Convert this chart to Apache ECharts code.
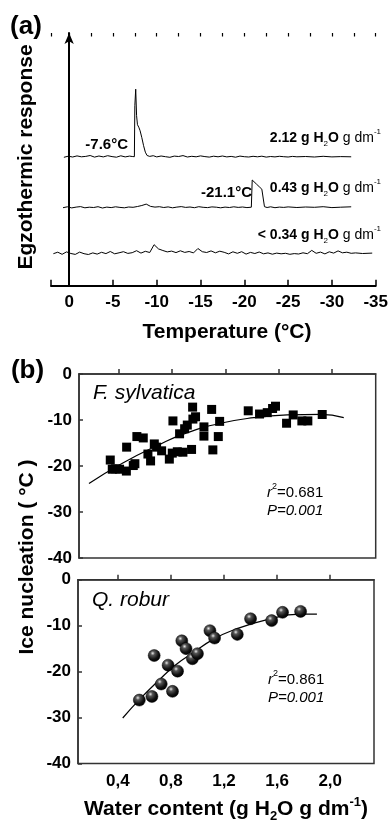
<!DOCTYPE html>
<html><head><meta charset="utf-8">
<script src="https://cdn.jsdelivr.net/npm/echarts@6/dist/echarts.min.js"></script>
<style>html,body{margin:0;padding:0;background:#fff}#c{width:391px;height:827px}</style>
</head><body><div id="c"></div>
<script>
const FONT = "'Liberation Sans', Arial, Helvetica, sans-serif";

// ---- Panel (a): DSC traces (temperature °C, exothermic response, arbitrary units)
const tempTicks = [0, -5, -10, -15, -20, -25, -30, -35];
const trace1Temp = [0.6,0.1,-0.4,-0.9,-1.4,-1.9,-2.4,-2.9,-3.4,-3.9,-4.4,-4.9,-5.4,-5.9,-6.4,-6.9,
  -7.2,-7.45,-7.5,-7.6,-7.7,-7.8,-7.95,-8.1,-8.3,-8.5,-8.7,-8.9,-9.2,-9.6,
  -10,-10.5,-11,-11.5,-12,-12.5,-13,-13.5,-14,-14.5,-15,-15.5,-16,-16.5,-17,-17.5,-18,-18.5,-19,-19.5,
  -20,-20.5,-21,-21.5,-22,-22.5,-23,-23.5,-24,-24.5,-25,-25.5,-26,
  -27,-28,-29,-30,-31,-32.2];
const trace1Resp = [128.4,129.5,128.7,129.8,128.9,129.3,130.2,128.6,129.7,128.8,130.0,129.1,128.5,129.9,128.8,129.6,
  129.2,129.0,180,196.5,170,161,158.5,155,148,140,133.5,130.2,129.3,130.0,
  128.8,129.7,129.0,128.4,129.6,129.2,130.1,128.7,129.4,128.9,129.8,129.1,128.6,129.5,128.9,129.7,128.8,129.3,128.5,129.6,
  129.0,128.7,129.4,128.9,129.5,128.6,129.2,128.8,129.4,129.0,128.7,129.3,128.9,
  129.2,128.7,129.4,128.8,129.1,128.9];
const trace2Temp = [0.7,0.2,-0.3,-0.8,-1.3,-1.8,-2.3,-2.8,-3.3,-3.8,-4.3,-4.8,-5.3,-5.8,-6.3,-6.8,-7.3,-7.8,-8.3,-8.8,
  -9.3,-9.8,-10.3,-10.8,-11.3,-11.8,-12.3,-12.8,-13.3,-13.8,-14.3,-14.8,-15.3,-15.8,-16.3,-16.8,-17.3,-17.8,-18.3,-18.8,
  -19.3,-19.8,-20.3,-20.8,
  -20.9,-21.1,-21.4,-21.7,-22.0,-22.2,-22.3,-22.6,
  -23,-23.5,-24,-24.5,-25,-26,-27,-28,-29,-30,-31,-32.2];
const trace2Resp = [78.0,78.9,77.8,78.6,79.1,77.9,78.5,78.2,79.0,77.7,78.6,78.1,78.9,78.3,77.9,78.7,78.4,79.2,80.2,81.6,
  79.3,78.6,79.0,78.2,78.8,77.9,78.6,79.1,78.3,78.7,78.0,79.0,78.4,78.1,78.8,78.5,77.9,78.6,78.2,78.9,
  78.3,78.7,78.1,78.5,
  105.7,104.5,101.5,99,96.5,94.5,79,78.2,
  78.9,78.0,78.6,78.3,78.8,78.2,78.7,78.4,79.0,78.1,78.5,78.9];
const trace3Temp = [1.8,1.3,0.8,0.3,-0.2,-0.7,-1.2,-1.7,-2.2,-2.7,-3.2,-3.7,-4.2,-4.7,-5.2,-5.7,-6.2,-6.7,-7.2,-7.7,
  -8.2,-8.7,-9.2,-9.7,-10.2,-10.7,-11.2,-11.7,-12.2,-12.7,-13.2,-13.7,-14.2,-14.7,-15.2,-15.7,-16.2,-16.7,-17.2,-17.7,
  -18.2,-18.7,-19.2,-19.7,-20.2,-20.7,-21.2,-21.7,-22.2,-22.7,-23.2,-23.7,-24.2,-24.7,-25.2,-25.7,-26.2,-26.7,-27.2,-27.7,
  -28.2,-28.7,-29.2,-29.7,-30.2,-30.7,-31.2,-31.7,-32.2,-32.7,-33.5,-34.6];
const trace3Resp = [32.0,33.5,31.4,33.8,32.2,31.3,33.6,32.0,31.2,32.8,31.6,33.4,32.1,34.2,31.9,32.9,34.0,32.3,33.0,35.0,
  32.6,34.4,33.2,41.0,36.8,35.2,33.8,34.6,33.1,34.9,33.3,34.2,32.8,37.2,34.0,33.2,34.8,32.9,34.5,33.4,
  31.8,33.9,32.4,34.0,31.6,33.3,32.2,33.7,31.9,32.8,31.5,32.6,31.9,32.4,31.4,32.1,31.7,32.9,32.0,35.3,
  32.4,33.6,31.8,33.9,32.6,34.8,32.9,33.5,32.4,32.8,32.2,32.6];

// ---- Panel (b): ice nucleation vs water content
const waterTicks = [0.4, 0.8, 1.2, 1.6, 2.0];
const iceTicks = [0, -10, -20, -30, -40];
const sylvaticaWater = [0.335,0.350,0.375,0.405,0.456,0.458,0.508,0.520,0.535,0.583,0.618,0.638,0.666,0.683,0.721,
  0.779,0.801,0.806,0.839,0.856,0.881,0.894,0.914,0.946,0.956,0.976,0.954,1.039,1.039,1.097,1.106,1.147,1.157,
  1.372,1.457,1.515,1.555,1.577,1.660,1.710,1.775,1.820,1.928];
const sylvaticaIce = [-18.7,-20.7,-20.6,-20.7,-21.1,-15.9,-19.9,-19.5,-13.6,-13.9,-17.4,-18.9,-15.2,-15.9,-16.7,
  -18.5,-17.2,-10.2,-16.9,-13.0,-17.0,-11.9,-11.1,-16.4,-9.8,-9.3,-7.2,-11.5,-13.5,-7.7,-16.5,-13.6,-10.3,
  -8.0,-8.7,-8.4,-7.5,-7.0,-10.7,-8.9,-10.2,-10.2,-8.8];
const sylvaticaFitWater = [0.175,0.426,0.70,0.90,1.164,1.414,1.665,1.915,2.09];
const sylvaticaFitIce = [-23.8,-19.4,-15.4,-12.9,-10.7,-9.5,-8.9,-8.76,-9.5];
const roburWater = [0.562,0.657,0.727,0.812,0.674,0.779,0.850,0.882,0.914,0.962,1.000,1.094,1.129,1.300,1.400,1.559,1.641,1.777];
const roburIce = [-26.2,-25.4,-22.7,-24.3,-16.5,-18.6,-19.9,-13.3,-15.0,-17.2,-16.1,-11.1,-12.7,-11.9,-8.5,-8.9,-7.1,-6.9];
const roburFitWater = [0.437,0.562,0.712,0.837,0.962,1.112,1.275,1.525,1.775,1.900];
const roburFitIce = [-30.1,-26.1,-21.8,-18.5,-16.0,-13.1,-10.9,-8.7,-7.5,-7.5];

const zip = (a, b) => a.map((v, i) => [v, b[i]]);
const chart = echarts.init(document.getElementById('c'), null, {renderer: 'canvas'});

const boldLab = {fontFamily: FONT, fontWeight: 'bold', fontSize: 17, color: '#000'};
const waterAxis = (grid, showLabels) => ({
  type: 'value', gridIndex: grid, min: 0.1, max: 2.33,
  axisLine: {show: true, lineStyle: {color: '#333', width: 1.5}},
  axisTick: {show: true, inside: true, length: 5, lineStyle: {color: '#333', width: 1.5}, customValues: waterTicks},
  axisLabel: Object.assign({show: showLabels, margin: 9, customValues: waterTicks,
    formatter: v => v.toFixed(1).replace('.', ',')}, boldLab),
  splitLine: {show: false}
});
const iceAxis = (grid) => ({
  type: 'value', gridIndex: grid, min: -40, max: 0, interval: 10,
  axisLine: {show: true, lineStyle: {color: '#333', width: 1.5}},
  axisTick: {show: true, inside: true, length: 4, lineStyle: {color: '#333', width: 1.5}},
  axisLabel: Object.assign({margin: 7}, boldLab),
  splitLine: {show: false}
});

const rich = (size, weight) => ({
  b: {fontFamily: FONT, fontWeight: 'bold', fontSize: size, lineHeight: size + 6, verticalAlign: 'middle'},
  n: {fontFamily: FONT, fontWeight: 'normal', fontSize: size, lineHeight: size + 6, verticalAlign: 'middle'},
  i: {fontFamily: FONT, fontStyle: 'italic', fontSize: size, lineHeight: size + 6, verticalAlign: 'middle'},
  sub: {fontFamily: FONT, fontWeight: weight, fontSize: Math.round(size * 0.6), lineHeight: size + 6, verticalAlign: 'bottom'},
  sup: {fontFamily: FONT, fontWeight: weight, fontSize: Math.round(size * 0.6), lineHeight: size + 6, verticalAlign: 'top'}
});
const txt = (x, y, text, opts) => Object.assign({
  type: 'text', x: x, y: y,
  style: Object.assign({text: text, fill: '#000', fontFamily: FONT, align: 'left', verticalAlign: 'middle'}, opts || {})
});

chart.setOption({
  backgroundColor: '#fff',
  animation: false,
  grid: [
    {left: 51, right: 11.7, top: 33, height: 252.7},
    {left: 79, top: 374, width: 296.7, height: 184, show: true, borderColor: '#333', borderWidth: 1.5},
    {left: 78, top: 579.7, width: 296, height: 183.8, show: true, borderColor: '#333', borderWidth: 1.5}
  ],
  xAxis: [
    {type: 'value', gridIndex: 0, min: -35, max: 2.07, interval: 5, inverse: true,
     axisLine: {show: true, lineStyle: {color: '#000', width: 2}},
     axisTick: {show: true, inside: true, length: 6, lineStyle: {color: '#000', width: 1.5}},
     axisLabel: Object.assign({margin: 8, formatter: v => (Math.abs(v % 5) < 1e-6 ? String(v) : '')}, boldLab),
     splitLine: {show: false}},
    {type: 'value', gridIndex: 0, min: -35, max: 2.07, interval: 2.5, inverse: true,
     axisLine: {show: false},
     axisTick: {show: true, inside: true, length: 3.5, lineStyle: {color: '#000', width: 1.2}},
     axisLabel: {show: false}, splitLine: {show: false}},
    waterAxis(1, false),
    waterAxis(2, true)
  ],
  yAxis: [
    {type: 'value', gridIndex: 0, min: 0, max: 252.7,
     axisLine: {show: true, symbol: ['none', 'arrow'], symbolSize: [7, 11], lineStyle: {color: '#000', width: 2}},
     axisTick: {show: false}, axisLabel: {show: false}, splitLine: {show: false}},
    iceAxis(1),
    iceAxis(2)
  ],
  series: [
    {type: 'line', xAxisIndex: 0, yAxisIndex: 0, data: zip(trace1Temp, trace1Resp), showSymbol: false,
     lineStyle: {color: '#000', width: 1}},
    {type: 'line', xAxisIndex: 0, yAxisIndex: 0, data: zip(trace2Temp, trace2Resp), showSymbol: false,
     lineStyle: {color: '#000', width: 1}},
    {type: 'line', xAxisIndex: 0, yAxisIndex: 0, data: zip(trace3Temp, trace3Resp), showSymbol: false,
     lineStyle: {color: '#000', width: 1}},
    {type: 'line', xAxisIndex: 2, yAxisIndex: 1, data: zip(sylvaticaFitWater, sylvaticaFitIce), smooth: true,
     showSymbol: false, lineStyle: {color: '#000', width: 1.2}, z: 1},
    {type: 'scatter', xAxisIndex: 2, yAxisIndex: 1, data: zip(sylvaticaWater, sylvaticaIce), symbol: 'rect',
     symbolSize: 9, itemStyle: {color: '#000', opacity: 1}, z: 2},
    {type: 'line', xAxisIndex: 3, yAxisIndex: 2, data: zip(roburFitWater, roburFitIce), smooth: true,
     showSymbol: false, lineStyle: {color: '#000', width: 1.2}, z: 1},
    {type: 'scatter', xAxisIndex: 3, yAxisIndex: 2, data: zip(roburWater, roburIce), symbol: 'circle',
     symbolSize: 12, z: 2,
     itemStyle: {opacity: 1, borderColor: '#000', borderWidth: 0.5,
       color: {type: 'radial', x: 0.38, y: 0.32, r: 0.68,
         colorStops: [{offset: 0, color: '#e8e8e8'}, {offset: 0.25, color: '#555'}, {offset: 0.7, color: '#111'}, {offset: 1, color: '#000'}]}}}
  ],
  graphic: [
    txt(26, 27, '(a)', {align: 'center', fontWeight: 'bold', fontSize: 26}),
    txt(27.5, 371, '(b)', {align: 'center', fontWeight: 'bold', fontSize: 26}),
    Object.assign(txt(26, 157, 'Egzothermic response', {align: 'center', fontWeight: 'bold', fontSize: 21}), {rotation: Math.PI / 2}),
    txt(227, 332, 'Temperature (°C)', {align: 'center', fontWeight: 'bold', fontSize: 21}),
    Object.assign(txt(27, 557, 'Ice nucleation ( °C )', {align: 'center', fontWeight: 'bold', fontSize: 21}), {rotation: Math.PI / 2}),
    txt(226, 809, '{b|Water content (g H}{sub|2}{b|O g dm}{sup|-1}{b|)}', {align: 'center', rich: rich(21, 'bold')}),
    txt(128, 145, '-7.6°C', {align: 'right', fontWeight: 'bold', fontSize: 15}),
    txt(252, 193, '-21.1°C', {align: 'right', fontWeight: 'bold', fontSize: 15}),
    txt(381, 138, '{b|2.12 g H}{sub|2}{b|O}{n| g dm}{sup|-1}', {align: 'right', rich: rich(14, 'normal')}),
    txt(381, 188, '{b|0.43 g H}{sub|2}{b|O}{n| g dm}{sup|-1}', {align: 'right', rich: rich(14, 'normal')}),
    txt(381, 235, '{b|< 0.34 g H}{sub|2}{b|O}{n| g dm}{sup|-1}', {align: 'right', rich: rich(14, 'normal')}),
    txt(93, 393, 'F. sylvatica', {fontStyle: 'italic', fontSize: 21}),
    txt(267, 493, '{i|r}{sup|2}{n|=0.681}', {rich: rich(15, 'normal')}),
    txt(267, 511, 'P=0.001', {fontStyle: 'italic', fontSize: 15}),
    txt(92, 600, 'Q. robur', {fontStyle: 'italic', fontSize: 21}),
    txt(268, 680, '{i|r}{sup|2}{n|=0.861}', {rich: rich(15, 'normal')}),
    txt(268, 698, 'P=0.001', {fontStyle: 'italic', fontSize: 15})
  ]
});
</script>
</body></html>
